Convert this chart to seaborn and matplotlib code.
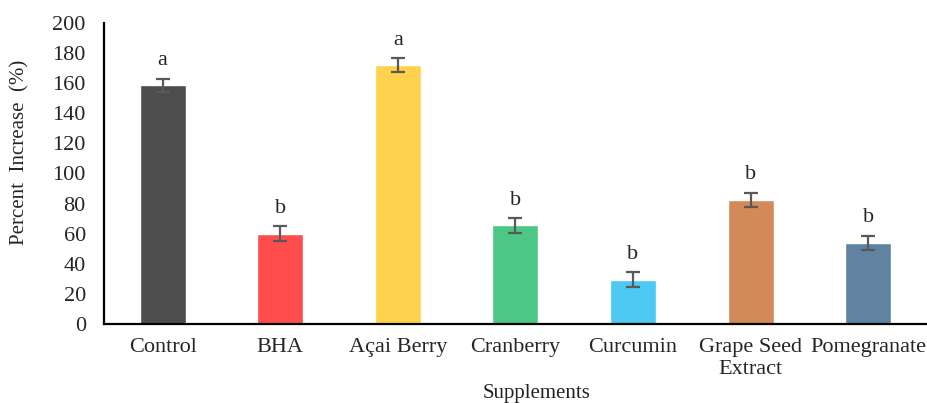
import numpy as np
import pandas as pd
import matplotlib
matplotlib.use("Agg")
import matplotlib.pyplot as plt
import seaborn as sns

## data
supplements = ["Control", "BHA", "Açai Berry", "Cranberry", "Curcumin",
               "Grape Seed\nExtract", "Pomegranate"]
pct_increase = [158.5, 60, 172, 65.5, 29.5, 82.5, 54]
err = [4.5, 4.8, 4.8, 4.8, 4.8, 4.8, 4.8]
letters = ["a", "b", "a", "b", "b", "b", "b"]
colors = ["#4D4D4D", "#FF4D4D", "#FFD24D", "#4DC785", "#4DC8F2",
          "#D4895A", "#6183A2"]

df = pd.DataFrame({"supp": supplements, "val": pct_increase})

sns.set_style("white")
plt.rcParams["font.family"] = ["Liberation Serif", "DejaVu Serif"]

fig = plt.figure(figsize=(9.27, 4.03), dpi=100)
ax = fig.add_axes([0.112, 0.196, 0.888, 0.747])

sns.barplot(data=df, x="supp", y="val", hue="supp", palette=colors,
            legend=False, width=0.39, errorbar=None, saturation=1, ax=ax)
x = np.arange(len(supplements))
ax.errorbar(x, pct_increase, yerr=err, fmt="none", ecolor="#595959",
            elinewidth=1.6, capsize=5, capthick=1.6)
for xi, v, e, t in zip(x, pct_increase, err, letters):
    ax.annotate(t, (xi, v + e), xytext=(0, 6), textcoords="offset points",
                ha="center", va="bottom", fontsize=16)

## axes
ax.set_xlim(-0.5, 6.5)
ax.set_ylim(0, 200)
ax.set_yticks(range(0, 201, 20))
ax.tick_params(axis="y", length=0, pad=13, labelsize=16)
ax.tick_params(axis="x", length=0, pad=10, labelsize=16)
sns.despine(ax=ax)
for s in ["left", "bottom"]:
    ax.spines[s].set_color("black")
    ax.spines[s].set_linewidth(1.6)
ax.set_ylabel("Percent  Increase  (%)", fontsize=15)
ax.set_xlabel("Supplements", fontsize=15, color="#222222")
ax.yaxis.set_label_coords(-0.09, 0.571)
ax.xaxis.set_label_coords(0.526, -0.2)

fig.savefig("out.png", dpi=100)
